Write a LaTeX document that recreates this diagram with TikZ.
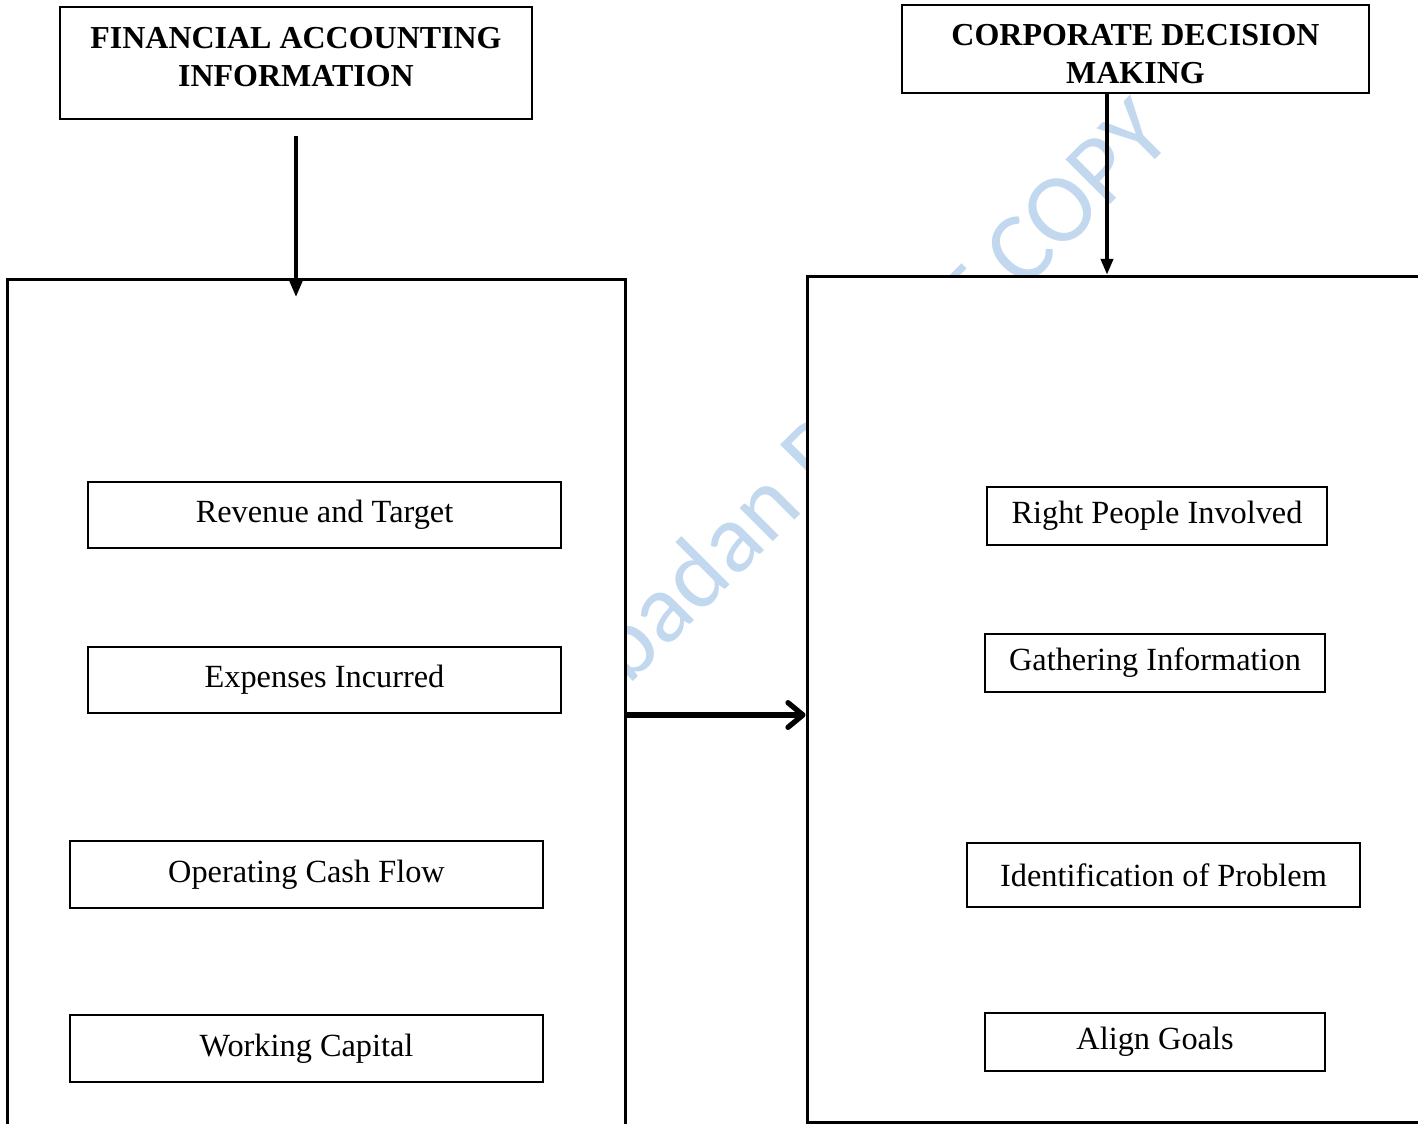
\documentclass[tikz,border=0pt]{standalone}
\usepackage{fontspec}
\setmainfont{Liberation Serif}
\newfontfamily\wmfont{Carlito}
\usetikzlibrary{arrows.meta}
\definecolor{wmblue}{RGB}{194,216,238}

\begin{document}
\begin{tikzpicture}[x=0.02cm, y=-0.02cm,
  bigbox/.style={draw, fill=white, line width=1.7pt, inner sep=0pt},
  itembox/.style={draw, fill=white, line width=0.85pt, inner sep=0pt, font=\fontsize{18.4}{22}\selectfont},
  headbox/.style={draw, fill=white, line width=0.85pt, inner sep=0pt},
  headtext/.style={inner sep=0pt, align=center, font=\fontsize{18.2}{21.5}\selectfont\bfseries},
  wmark/.style={text=wmblue, rotate=45, anchor=base west, inner sep=0pt, font=\wmfont\fontsize{56}{60}\selectfont},
  thinarrow/.style={line width=1.9pt, -{Triangle[width=7pt,length=9pt]}},
  thickarrow/.style={line width=3pt, -{Straight Barb[length=8.5pt,width=14pt,round]}}
]
\clip (0,0) rectangle (1418,1124);

% watermark, behind everything
\node[wmark] (wm) at (611,704) {Ibadan DRAFT COPY};

\node[bigbox, minimum width=12.38cm, minimum height=17.4cm] (fbox) at (316.5,714) {};
\node[bigbox, minimum width=12.66cm, minimum height=16.93cm] (rbox) at (1123.5,699.25) {};

\node[headbox, minimum width=9.44cm, minimum height=2.24cm] (fai) at (296,63) {};
\node[headtext] (faitext) at (296,57) {FINANCIAL ACCOUNTING\\INFORMATION};

\node[headbox, minimum width=9.34cm, minimum height=1.76cm] (cdm) at (1135.5,49) {};
\begin{scope}
\clip (902,5) rectangle (1369,84);
\node[headtext] (cdmtext) at (1135.5,54) {CORPORATE DECISION\\MAKING};
\end{scope}

\node[itembox, minimum width=9.46cm, minimum height=1.32cm] (rev) at (324.5,515) {Revenue and Target};
\node[itembox, minimum width=9.46cm, minimum height=1.32cm] (exp) at (324.5,680) {Expenses Incurred};
\node[itembox, minimum width=9.46cm, minimum height=1.34cm] (ocf) at (306.5,874.5) {Operating Cash Flow};
\node[itembox, minimum width=9.46cm, minimum height=1.34cm] (wcap) at (306.5,1048.5) {Working Capital};

\node[itembox, minimum width=6.8cm, minimum height=1.16cm] (rpi) at (1157,516) {Right People Involved};
\node[itembox, minimum width=6.8cm, minimum height=1.16cm] (ginf) at (1155,663) {Gathering Information};
\node[itembox, minimum width=7.86cm, minimum height=1.28cm] (iop) at (1163.5,875) {Identification of Problem};
\node[itembox, minimum width=6.8cm, minimum height=1.16cm] (agoal) at (1155,1042) {Align Goals};

\draw[thinarrow, shorten <=9pt, shorten >=-11pt] (fai.south) -- (fai.south |- fbox.north);
\draw[thinarrow] ([xshift=-0.57cm]cdm.south) -- ([xshift=-0.57cm]cdm.south |- rbox.north);
\draw[thickarrow] ([yshift=-0.02cm]fbox.east) -- ([yshift=-0.02cm]fbox.east -| rbox.west);

\end{tikzpicture}
\end{document}
